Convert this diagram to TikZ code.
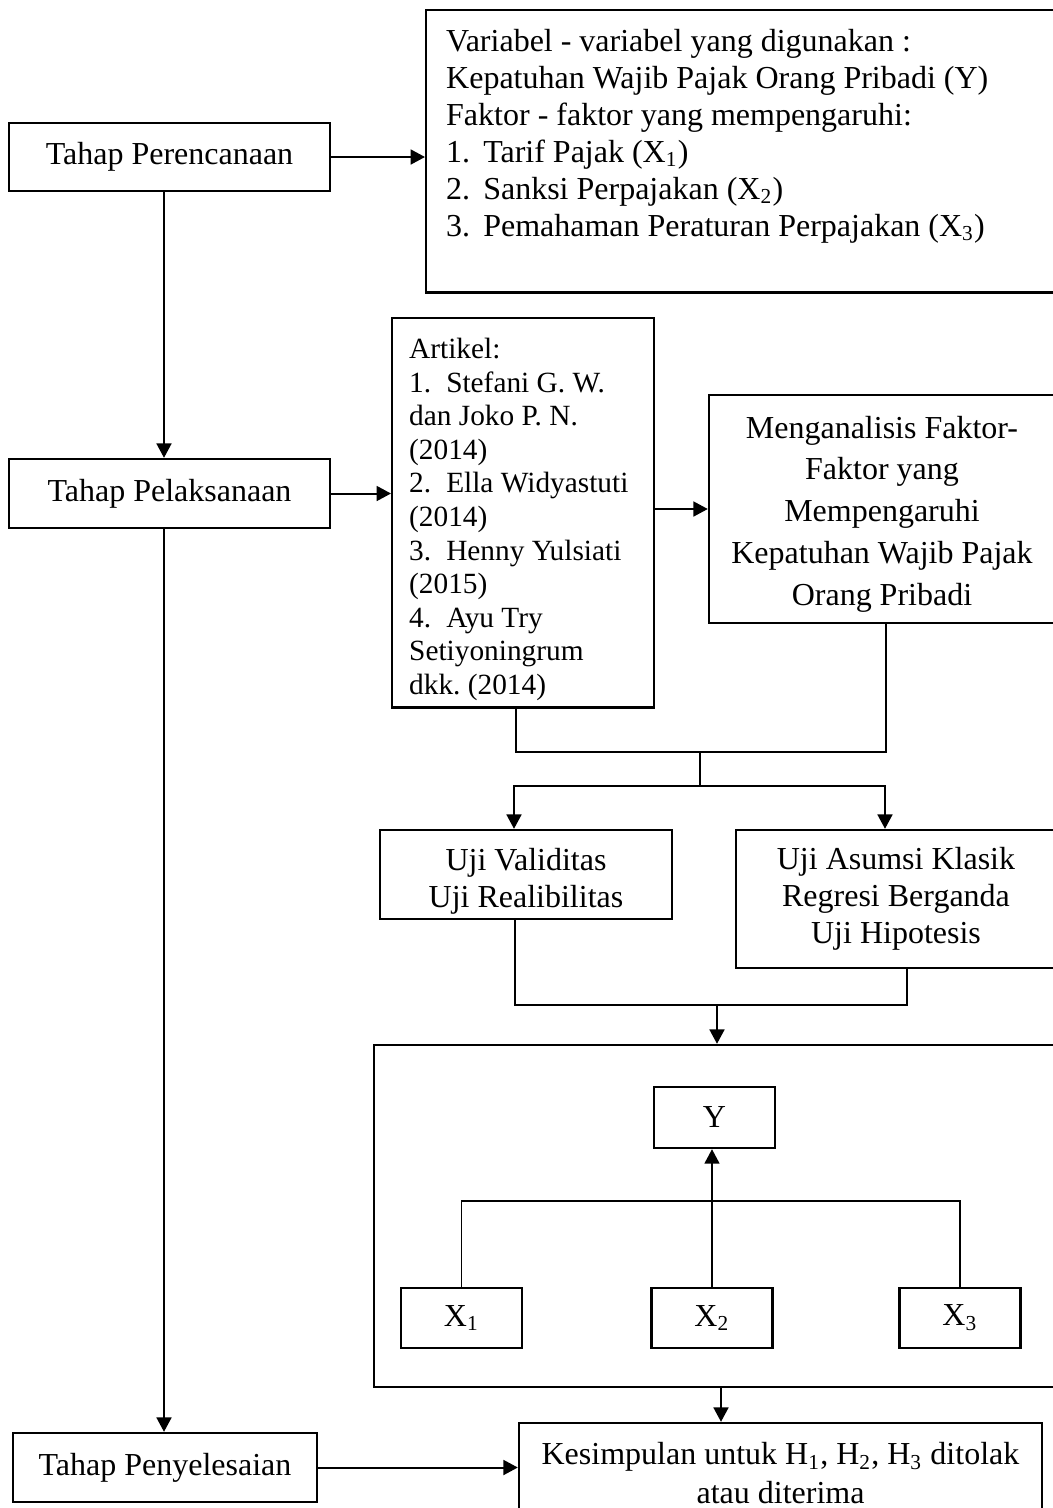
\documentclass[tikz,border=0pt]{standalone}
\usepackage{fontspec}
\setmainfont{Liberation Serif}
\usetikzlibrary{arrows.meta}
\frenchspacing

\newcommand{\lnum}[1]{\makebox[13.9pt][l]{#1}}

\begin{document}
\begin{tikzpicture}[x=0.375pt,y=-0.375pt,font=\fontsize{12pt}{13.875pt}\selectfont]
    \def\dx{0.375pt}

    \tikzstyle{box}=[draw=black,line width=0.9pt,align=flush center,inner sep=0pt]
    \tikzstyle{stage}=[box,minimum width=321*\dx,minimum height=68*\dx]
    \tikzstyle{var}=[box,minimum width=121*\dx,minimum height=60*\dx]
    \tikzstyle{list}=[box,align=flush left,anchor=north west]
    \tikzstyle{line}=[draw=black,line width=0.75pt]
    \tikzstyle{fwd}=[line,-{Triangle[length=5.4pt,width=5.6pt]}]

    \useasboundingbox (0,0) rectangle (1052,1508);
    \fill[white] (0,0) rectangle (1052,1508);

    % stages on the left
    \node[stage] (plan) at (169.5,157) {Tahap Perencanaan};
    \node[stage,minimum height=69*\dx] (exec) at (169.5,493.5) {Tahap Pelaksanaan};
    \node[stage,minimum width=304*\dx,minimum height=69*\dx] (done) at (165,1467.5) {Tahap Penyelesaian};
    \coordinate (spine) at (164,0);

    % planning
    \node[list,text width=220.5pt,inner xsep=7.5pt,inner ysep=7pt,text depth=83.5pt] (vars) at (425,9)
        {Variabel - variabel yang digunakan :\\
         Kepatuhan Wajib Pajak Orang Pribadi (Y)\\
         Faktor - faktor yang mempengaruhi:\\
         \lnum{1.}Tarif Pajak (X\textsubscript{1})\\
         \lnum{2.}Sanksi Perpajakan (X\textsubscript{2})\\
         \lnum{3.}Pemahaman Peraturan Perpajakan (X\textsubscript{3})};

    % execution
    \node[list,text width=85.5pt,inner xsep=6.375pt,inner ysep=7.5pt,text depth=123.4pt,
          font=\fontsize{11pt}{12.6pt}\selectfont] (art) at (391,317)
        {Artikel:\\
         \lnum{1.}Stefani G. W.\\
         dan Joko P. N.\\
         (2014)\\
         \lnum{2.}Ella Widyastuti\\
         (2014)\\
         \lnum{3.}Henny Yulsiati\\
         (2015)\\
         \lnum{4.}Ayu Try\\
         Setiyoningrum\\
         dkk. (2014)};
    \node[box,minimum width=346*\dx,minimum height=228*\dx,text width=129.75pt,text height=12pt,
          font=\fontsize{12pt}{15.66pt}\selectfont] (ana) at (882,509)
        {Menganalisis Faktor-\\ Faktor yang\\ Mempengaruhi\\ Kepatuhan Wajib Pajak\\ Orang Pribadi};

    \node[box,minimum width=292*\dx,minimum height=89*\dx,text width=109.5pt,text height=13.5pt] (valid) at (526,874.5)
        {Uji Validitas\\ Uji Realibilitas};
    \node[box,minimum width=320*\dx,minimum height=138*\dx] (check) at (896,899)
        {Uji Asumsi Klasik\\ Regresi Berganda\\ Uji Hipotesis};

    % research model
    \node[box,minimum width=681*\dx,minimum height=342*\dx] (model) at (714.5,1216) {};
    \node[var,minimum height=61*\dx] (y) at (714.5,1117.5) {Y};
    \node[var] (x1) at (461.5,1318) {X\textsubscript{1}};
    \node[var] (x2) at (712,1318) {X\textsubscript{2}};
    \node[var] (x3) at (960,1318) {X\textsubscript{3}};

    \node[box,minimum width=523*\dx,minimum height=92*\dx,text width=196pt,text height=11.25pt,
          font=\fontsize{12pt}{14.6pt}\selectfont] (kes) at (780.5,1469)
        {Kesimpulan untuk H\textsubscript{1}, H\textsubscript{2}, H\textsubscript{3} ditolak\\ atau diterima};

    \coordinate (j1) at (700,752);
    \coordinate (j2) at (700,786);
    \coordinate (j3) at (717,1005);
    \coordinate (j4) at (712,1201);

    \draw [fwd] (plan.east) -- (plan.east -| vars.west);
    \draw [fwd] (plan.south -| spine) -- (exec.north -| spine);
    \draw [fwd] (exec.south -| spine) -- (done.north -| spine);
    \draw [fwd] (exec.east) -- (exec.east -| art.west);
    \draw [fwd] (ana.west -| art.east) -- (ana.west);

    \draw [line] ([xshift=-7*\dx]art.south) |- (j1) -| ([xshift=4*\dx]ana.south);
    \draw [line] (j1) -- (j2);
    \draw [fwd] (j2) -| ([xshift=-12*\dx]valid.north);
    \draw [fwd] (j2) -| ([xshift=-11*\dx]check.north);

    \draw [line] ([xshift=-11*\dx]valid.south) |- (j3) -| ([xshift=11*\dx]check.south);
    \draw [fwd] (j3) -- (j3 |- model.north);

    \draw [line,line width=0.6pt] (x1.north) |- (j4) -| (x3.north);
    \draw [fwd,line width=0.6pt] (x2.north) -- (x2.north |- y.south);

    \draw [fwd] ([xshift=6.5*\dx]model.south) -- ([xshift=6.5*\dx]model.south |- kes.north);
    \draw [fwd] (done.east) -- (done.east -| kes.west);

\end{tikzpicture}
\end{document}
